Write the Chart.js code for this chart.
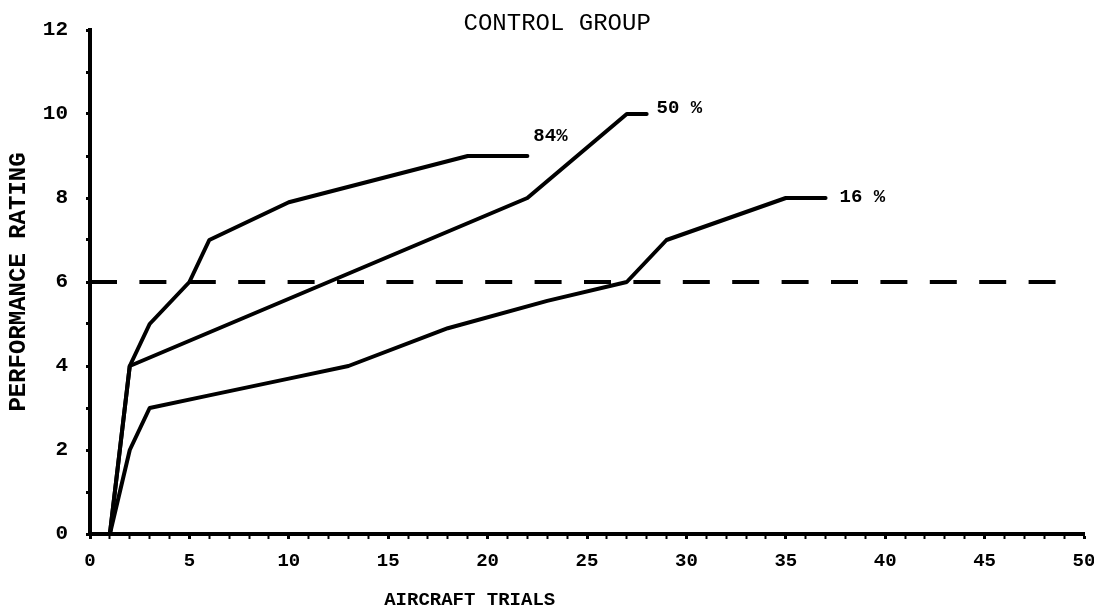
<!DOCTYPE html>
<html>
<head>
<meta charset="utf-8">
<script src="https://cdn.jsdelivr.net/npm/chart.js@4/dist/chart.umd.min.js"></script>
<style>
  html, body { margin: 0; padding: 0; background: #fff; }
  #wrap { width: 1094px; height: 613px; }
</style>
</head>
<body>
<div id="wrap"><canvas id="c" width="1094" height="613"></canvas></div>
<script>
// ---- data ----
const chartTitle = "CONTROL GROUP";
const xAxisTitle = "AIRCRAFT TRIALS";
const yAxisTitle = "PERFORMANCE RATING";

const p84x = [1, 2, 3, 5, 6, 10, 19, 22];
const p84y = [0, 4, 5, 6, 7, 7.9, 9, 9];

const p50x = [1, 2, 22, 27, 28];
const p50y = [0, 4, 8, 10, 10];

const p16x = [1, 2, 3, 6, 10, 13, 18, 23, 27, 29, 35, 37];
const p16y = [0, 2, 3, 3.3, 3.7, 4, 4.9, 5.55, 6, 7, 8, 8];

const criterionX = [0, 48.6];
const criterionY = [6, 6];

const curveLabels = ["84%", "50 %", "16 %"];
const curveLabelX = [22.3, 28.5, 37.7];
const curveLabelY = [9.48, 10.14, 8.02];

const xTickLabels = [0, 5, 10, 15, 20, 25, 30, 35, 40, 45, 50];
const yTickLabels = [0, 2, 4, 6, 8, 10, 12];

const toPts = (xs, ys) => xs.map((x, i) => ({ x: x, y: ys[i] }));

const MONO = '"Liberation Mono", "DejaVu Sans Mono", monospace';

const textPlugin = {
  id: 'texts',
  afterDraw(chart) {
    const ctx = chart.ctx;
    const xs = chart.scales.x, ys = chart.scales.y;
    const ca = chart.chartArea;
    ctx.save();
    ctx.fillStyle = '#000';
    // curve labels
    ctx.font = 'bold 19px ' + MONO;
    ctx.textAlign = 'left';
    ctx.textBaseline = 'middle';
    curveLabels.forEach((t, i) => {
      ctx.fillText(t, xs.getPixelForValue(curveLabelX[i]), ys.getPixelForValue(curveLabelY[i]));
    });
    // chart title
    ctx.font = '24px ' + MONO;
    ctx.textAlign = 'center';
    ctx.fillText(chartTitle, xs.getPixelForValue(23.5), ca.top - 6);
    // x axis title
    ctx.font = 'bold 19px ' + MONO;
    ctx.fillText(xAxisTitle, xs.getPixelForValue(19.1), ca.bottom + 66);
    ctx.restore();
  }
};

const lineStyle = {
  borderColor: '#000',
  borderWidth: 4,
  pointRadius: 0,
  tension: 0,
  fill: false,
  clip: false,
  borderCapStyle: 'round',
  borderJoinStyle: 'round'
};

new Chart(document.getElementById('c'), {
  type: 'line',
  data: {
    datasets: [
      Object.assign({ label: '84%', data: toPts(p84x, p84y) }, lineStyle),
      Object.assign({ label: '50%', data: toPts(p50x, p50y) }, lineStyle),
      Object.assign({ label: '16%', data: toPts(p16x, p16y) }, lineStyle),
      Object.assign({ label: 'criterion', data: toPts(criterionX, criterionY) }, lineStyle,
        { borderDash: [27, 22.4], borderCapStyle: 'butt' })
    ]
  },
  plugins: [textPlugin],
  options: {
    responsive: false,
    animation: false,
    layout: { padding: { left: 0, right: 10, top: 30, bottom: 0 } },
    plugins: { legend: { display: false }, title: { display: false }, tooltip: { enabled: false } },
    scales: {
      x: {
        type: 'linear',
        min: 0, max: 50,
        afterFit(s) { s.height = 79; s.paddingRight = 0; s.paddingLeft = 0; },
        border: { display: true, color: '#000', width: 4 },
        grid: {
          drawOnChartArea: false,
          drawTicks: true,
          tickLength: 5,
          tickColor: '#000',
          tickWidth: (c) => (c.tick && c.tick.value % 5 === 0 ? 3 : 2)
        },
        ticks: {
          stepSize: 1,
          autoSkip: false,
          maxRotation: 0,
          padding: 11,
          color: '#000',
          font: { family: MONO, size: 19, weight: 'bold' },
          callback: (v) => (xTickLabels.includes(v) ? String(v) : '')
        }
      },
      y: {
        type: 'linear',
        min: 0, max: 12,
        afterFit(s) { s.width = 90; s.paddingTop = 0; s.paddingBottom = 0; },
        border: { display: true, color: '#000', width: 4 },
        grid: {
          drawOnChartArea: false,
          drawTicks: true,
          tickLength: 4,
          tickColor: '#000',
          tickWidth: 3
        },
        ticks: {
          stepSize: 1,
          autoSkip: false,
          padding: 18,
          color: '#000',
          font: { family: MONO, size: 21, weight: 'bold' },
          callback: (v) => (yTickLabels.includes(v) ? String(v) : '')
        },
        title: {
          display: true,
          text: yAxisTitle,
          color: '#000',
          font: { family: MONO, size: 24, weight: 'bold' },
          padding: { top: 5, bottom: 0 }
        }
      }
    }
  }
});
</script>
</body>
</html>
